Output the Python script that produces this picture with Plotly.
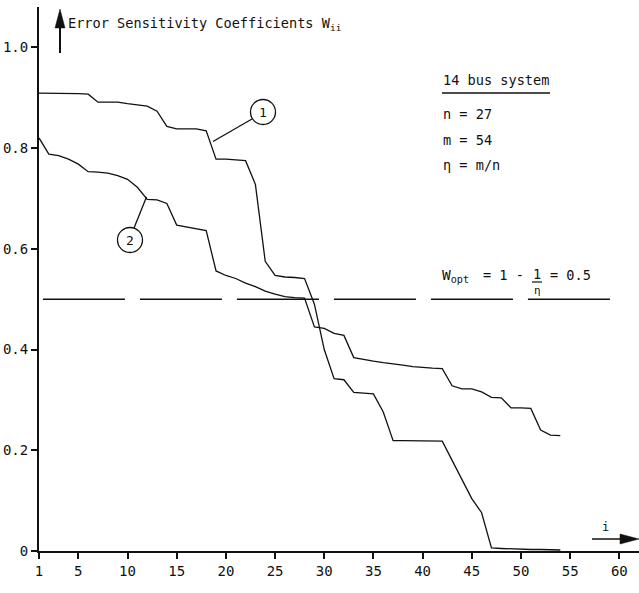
import plotly.graph_objects as go

# ---------------- data ----------------
idx = list(range(1, 55))
w_curve1 = [0.909, 0.909, 0.909, 0.908, 0.908, 0.907, 0.891, 0.891, 0.891, 0.888,
            0.886, 0.883, 0.873, 0.843, 0.838, 0.838, 0.838, 0.834, 0.778, 0.778,
            0.777, 0.775, 0.728, 0.575, 0.547, 0.544, 0.543, 0.541, 0.490, 0.400,
            0.342, 0.340, 0.315, 0.314, 0.312, 0.276, 0.219, 0.219, 0.219, 0.219,
            0.219, 0.218, 0.180, 0.141, 0.104, 0.076, 0.006, 0.005, 0.004, 0.004,
            0.003, 0.003, 0.002, 0.002]
w_curve2 = [0.820, 0.788, 0.785, 0.778, 0.768, 0.753, 0.752, 0.750, 0.745, 0.738,
            0.722, 0.698, 0.697, 0.690, 0.647, 0.643, 0.640, 0.636, 0.556, 0.547,
            0.541, 0.532, 0.525, 0.516, 0.510, 0.505, 0.503, 0.502, 0.445, 0.442,
            0.432, 0.428, 0.384, 0.380, 0.377, 0.374, 0.372, 0.369, 0.366, 0.364,
            0.363, 0.362, 0.328, 0.322, 0.322, 0.316, 0.305, 0.304, 0.284, 0.284,
            0.283, 0.240, 0.230, 0.229]
w_opt = 0.5
x_ticks = [1, 5, 10, 15, 20, 25, 30, 35, 40, 45, 50, 55, 60]
y_ticks = [0, 0.2, 0.4, 0.6, 0.8, 1.0]
y_ticklabels = ["0", "0.2", "0.4", "0.6", "0.8", "1.0"]

# ---------------- layout geometry ----------------
W, H = 639, 593
ML, MR, MT, MB = 39, 0, 7, 42
XR = [1, 62]
YR = [0, 1.08]
PW, PH = W - ML - MR, H - MT - MB


def dx(px):
    return XR[0] + (px - ML) * (XR[1] - XR[0]) / PW


def dy(py):
    return YR[0] + (H - MB - py) * (YR[1] - YR[0]) / PH


FONT = "DejaVu Sans Mono"
BLACK = "#111111"

fig = go.Figure()
fig.add_trace(go.Scatter(x=idx, y=w_curve1, mode="lines",
                         line=dict(color=BLACK, width=1.3), showlegend=False))
fig.add_trace(go.Scatter(x=idx, y=w_curve2, mode="lines",
                         line=dict(color=BLACK, width=1.3), showlegend=False))

shapes = []
# W_opt reference line
shapes.append(dict(type="line", xref="x", yref="y", x0=1.4, x1=dx(615), y0=w_opt, y1=w_opt,
                   line=dict(color=BLACK, width=1.5, dash="82px,15px")))
# y-axis arrow (shaft + head)
shapes.append(dict(type="line", xref="x", yref="y", x0=dx(60), x1=dx(60), y0=dy(53), y1=dy(24),
                   line=dict(color=BLACK, width=2)))
shapes.append(dict(type="path", xref="x", yref="y", xsizemode="pixel", ysizemode="pixel",
                   xanchor=dx(60), yanchor=dy(9), path="M -5 -19 L 5 -19 L 0 0 Z",
                   fillcolor=BLACK, line=dict(color=BLACK, width=0.5)))
# i-axis arrow
shapes.append(dict(type="line", xref="x", yref="y", x0=dx(592), x1=dx(625), y0=dy(539), y1=dy(539),
                   line=dict(color=BLACK, width=1.5)))
shapes.append(dict(type="path", xref="x", yref="y", xsizemode="pixel", ysizemode="pixel",
                   xanchor=dx(639), yanchor=dy(539), path="M -19 5 L -19 -5 L 0 0 Z",
                   fillcolor=BLACK, line=dict(color=BLACK, width=0.5)))
# underline of "14 bus system"
shapes.append(dict(type="line", xref="x", yref="y", x0=dx(442), x1=dx(550), y0=dy(93), y1=dy(93),
                   line=dict(color=BLACK, width=1.5)))
# fraction bar 1/eta
shapes.append(dict(type="line", xref="x", yref="y", x0=dx(532), x1=dx(542), y0=dy(282), y1=dy(282),
                   line=dict(color=BLACK, width=1.2)))
# curve label circles and leaders
for cx, cy in [(263, 112), (130, 240)]:
    shapes.append(dict(type="circle", xref="x", yref="y", xsizemode="pixel", ysizemode="pixel",
                       xanchor=dx(cx), yanchor=dy(cy), x0=-12.5, x1=12.5, y0=-12.5, y1=12.5,
                       line=dict(color=BLACK, width=1.3)))
shapes.append(dict(type="line", xref="x", yref="y", x0=dx(252), y0=dy(119), x1=dx(213), y1=dy(141.5),
                   line=dict(color=BLACK, width=1.3)))
shapes.append(dict(type="line", xref="x", yref="y", x0=dx(134), y0=dy(228), x1=dx(146.5), y1=dy(197),
                   line=dict(color=BLACK, width=1.3)))

ann = []


def text(px, py, s, size=13.6, xanchor="left"):
    ann.append(dict(x=dx(px), y=dy(py), xref="x", yref="y", text=s, showarrow=False,
                    xanchor=xanchor, yanchor="middle", font=dict(family=FONT, size=size, color=BLACK)))


text(66, 24, "Error Sensitivity Coefficients W<sub>ii</sub>")
text(441, 80, "14 bus system")
text(441, 114, "n = 27")
text(441, 140, "m = 54")
text(441, 165, "η = m/n")
text(440, 276, "W<sub>opt</sub>", size=14.5)
text(481, 275, "= 1 -")
text(537, 274, "1", xanchor="center")
text(537, 290, "η", size=11, xanchor="center")
text(548, 275, "= 0.5")
text(263, 112, "1", size=13, xanchor="center")
text(130, 240, "2", size=13, xanchor="center")
text(605, 527, "i", size=12, xanchor="center")
ann_list = ann

fig.update_layout(
    width=W, height=H, autosize=False,
    margin=dict(l=ML, r=MR, t=MT, b=MB, pad=0),
    paper_bgcolor="white", plot_bgcolor="white",
    shapes=shapes, annotations=ann_list,
    font=dict(family=FONT, color=BLACK),
    xaxis=dict(range=XR, showline=True, linecolor=BLACK, linewidth=2, showgrid=False,
               zeroline=False, ticks="outside", ticklen=6, tickwidth=2, tickcolor=BLACK,
               tickvals=x_ticks, tickfont=dict(family=FONT, size=14, color=BLACK)),
    yaxis=dict(range=YR, showline=True, linecolor=BLACK, linewidth=2, showgrid=False,
               zeroline=False, ticks="outside", ticklen=6, tickwidth=2, tickcolor=BLACK,
               tickvals=y_ticks, ticktext=y_ticklabels,
               tickfont=dict(family=FONT, size=14, color=BLACK)),
)

fig.write_html("out.html")
